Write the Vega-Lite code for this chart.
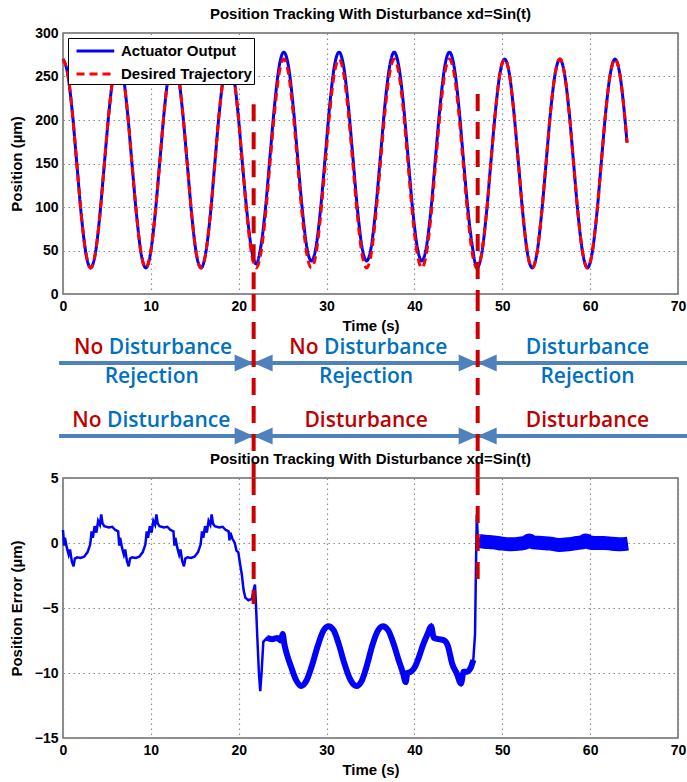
{
  "$schema": "https://vega.github.io/schema/vega-lite/v6.json",
  "padding": {"left": 8, "top": 6, "right": 0, "bottom": 0},
  "spacing": 0,
  "bounds": "flush",
  "resolve": {"scale": {"x": "independent", "y": "independent", "color": "independent"}},
  "config": {
    "view": {"stroke": "#6a6a6a", "strokeWidth": 1.5},
    "font": "Liberation Sans",
    "axis": {
      "labelFont": "Liberation Sans", "labelFontWeight": "bold", "labelFontSize": 14, "labelColor": "black",
      "titleFont": "Liberation Sans", "titleFontWeight": "bold", "titleFontSize": 15, "titleColor": "black",
      "domain": false, "ticks": false, "grid": true, "gridColor": "#8a8a8a", "gridDash": [1.5, 3.5], "gridWidth": 1.2, "gridOpacity": 1,
      "labelPadding": 5, "labelFlush": false, "labelOverlap": false
    },
    "axisY": {"titlePadding": 10},
    "axisX": {"titlePadding": 5},
    "title": {"font": "Liberation Sans", "fontSize": 15, "fontWeight": "bold", "color": "black", "anchor": "middle", "offset": 4}
  },
  "datasets": {
    "track": [
      {"t":0,"D":270,"A":270},{"t":0.52,"D":253.9,"A":253.9},{"t":1.05,"D":210,"A":210},{"t":1.57,"D":150,"A":150},{"t":2.09,"D":90,"A":90},{"t":2.62,"D":46.1,"A":46.1},
      {"t":3.14,"D":30,"A":30},{"t":3.67,"D":46.1,"A":46.1},{"t":4.19,"D":90,"A":90},{"t":4.71,"D":150,"A":150},{"t":5.24,"D":210,"A":210},{"t":5.76,"D":253.9,"A":253.9},
      {"t":6.28,"D":270,"A":270},{"t":6.81,"D":253.9,"A":253.9},{"t":7.33,"D":210,"A":210},{"t":7.85,"D":150,"A":150},{"t":8.38,"D":90,"A":90},{"t":8.9,"D":46.1,"A":46.1},
      {"t":9.42,"D":30,"A":30},{"t":9.95,"D":46.1,"A":46.1},{"t":10.47,"D":90,"A":90},{"t":11.0,"D":150,"A":150},{"t":11.52,"D":210,"A":210},{"t":12.04,"D":253.9,"A":253.9},
      {"t":12.57,"D":270,"A":270},{"t":13.09,"D":253.9,"A":253.9},{"t":13.61,"D":210,"A":210},{"t":14.14,"D":150,"A":150},{"t":14.66,"D":90,"A":90},{"t":15.18,"D":46.1,"A":46.1},
      {"t":15.71,"D":30,"A":30},{"t":16.23,"D":46.1,"A":46.1},{"t":16.76,"D":90,"A":90},{"t":17.28,"D":150,"A":150},{"t":17.8,"D":210,"A":210},{"t":18.33,"D":253.9,"A":253.9},
      {"t":18.85,"D":270,"A":270},{"t":19.37,"D":253.9,"A":253.9},{"t":19.9,"D":210,"A":210},{"t":20.42,"D":150,"A":150},{"t":20.94,"D":90,"A":94},{"t":21.47,"D":46.1,"A":50.4},
      {"t":21.99,"D":30,"A":34.5},{"t":22.51,"D":46.1,"A":54.1},{"t":23.04,"D":90,"A":98},{"t":23.56,"D":150,"A":158},{"t":24.09,"D":210,"A":218},{"t":24.61,"D":253.9,"A":261.9},
      {"t":25.13,"D":270,"A":278},{"t":25.66,"D":253.9,"A":261.9},{"t":26.18,"D":210,"A":218},{"t":26.7,"D":150,"A":158},{"t":27.23,"D":90,"A":98},{"t":27.75,"D":46.1,"A":54.1},
      {"t":28.27,"D":30,"A":38},{"t":28.8,"D":46.1,"A":54.1},{"t":29.32,"D":90,"A":98},{"t":29.85,"D":150,"A":158},{"t":30.37,"D":210,"A":218},{"t":30.89,"D":253.9,"A":261.9},
      {"t":31.42,"D":270,"A":278},{"t":31.94,"D":253.9,"A":261.9},{"t":32.46,"D":210,"A":218},{"t":32.99,"D":150,"A":158},{"t":33.51,"D":90,"A":98},{"t":34.03,"D":46.1,"A":54.1},
      {"t":34.56,"D":30,"A":38},{"t":35.08,"D":46.1,"A":54.1},{"t":35.6,"D":90,"A":98},{"t":36.13,"D":150,"A":158},{"t":36.65,"D":210,"A":218},{"t":37.18,"D":253.9,"A":261.9},
      {"t":37.7,"D":270,"A":278},{"t":38.22,"D":253.9,"A":261.9},{"t":38.75,"D":210,"A":218},{"t":39.27,"D":150,"A":158},{"t":39.79,"D":90,"A":98},{"t":40.32,"D":46.1,"A":54.1},
      {"t":40.84,"D":30,"A":38},{"t":41.36,"D":46.1,"A":54.1},{"t":41.89,"D":90,"A":98},{"t":42.41,"D":150,"A":158},{"t":42.94,"D":210,"A":218},{"t":43.46,"D":253.9,"A":261.9},
      {"t":43.98,"D":270,"A":278},{"t":44.51,"D":253.9,"A":261.9},{"t":45.03,"D":210,"A":218},{"t":45.55,"D":150,"A":158},{"t":46.08,"D":90,"A":98},{"t":46.6,"D":46.1,"A":54.1},
      {"t":47.12,"D":30,"A":30},{"t":47.65,"D":46.1,"A":46.1},{"t":48.17,"D":90,"A":90},{"t":48.69,"D":150,"A":150},{"t":49.22,"D":210,"A":210},{"t":49.74,"D":253.9,"A":253.9},
      {"t":50.27,"D":270,"A":270},{"t":50.79,"D":253.9,"A":253.9},{"t":51.31,"D":210,"A":210},{"t":51.84,"D":150,"A":150},{"t":52.36,"D":90,"A":90},{"t":52.88,"D":46.1,"A":46.1},
      {"t":53.41,"D":30,"A":30},{"t":53.93,"D":46.1,"A":46.1},{"t":54.45,"D":90,"A":90},{"t":54.98,"D":150,"A":150},{"t":55.5,"D":210,"A":210},{"t":56.03,"D":253.9,"A":253.9},
      {"t":56.55,"D":270,"A":270},{"t":57.07,"D":253.9,"A":253.9},{"t":57.6,"D":210,"A":210},{"t":58.12,"D":150,"A":150},{"t":58.64,"D":90,"A":90},{"t":59.17,"D":46.1,"A":46.1},
      {"t":59.69,"D":30,"A":30},{"t":60.21,"D":46.1,"A":46.1},{"t":60.74,"D":90,"A":90},{"t":61.26,"D":150,"A":150},{"t":61.78,"D":210,"A":210},{"t":62.31,"D":253.9,"A":253.9},
      {"t":62.83,"D":270,"A":270},{"t":63.36,"D":253.9,"A":253.9},{"t":63.88,"D":210,"A":210},{"t":64.2,"D":174,"A":174}
    ],
    "err": [
      {"t":0,"e":1.0},{"t":0.12,"e":-0.2},{"t":0.22,"e":0.4},{"t":0.45,"e":-0.4},{"t":0.65,"e":-0.9},{"t":0.8,"e":-0.5},{"t":1.0,"e":-1.4},{"t":1.2,"e":-1.8},{"t":1.35,"e":-1.2},{"t":1.6,"e":-1.1},{"t":2.0,"e":-1.15},{"t":2.4,"e":-1.05},{"t":2.8,"e":-0.7},{"t":3.1,"e":-0.1},{"t":3.25,"e":0.9},{"t":3.4,"e":0.4},{"t":3.6,"e":1.3},{"t":3.8,"e":0.8},{"t":4.0,"e":1.7},{"t":4.2,"e":1.4},{"t":4.35,"e":2.2},{"t":4.5,"e":1.5},{"t":4.7,"e":1.3},{"t":5.2,"e":1.2},{"t":5.6,"e":1.25},{"t":5.95,"e":1.0},
      {"t":6.28,"e":0.9},{"t":6.4,"e":-0.2},{"t":6.5,"e":0.4},{"t":6.73,"e":-0.4},{"t":6.93,"e":-0.9},{"t":7.08,"e":-0.5},{"t":7.28,"e":-1.4},{"t":7.48,"e":-1.8},{"t":7.63,"e":-1.2},{"t":7.88,"e":-1.1},{"t":8.28,"e":-1.15},{"t":8.68,"e":-1.05},{"t":9.08,"e":-0.7},{"t":9.38,"e":-0.1},{"t":9.53,"e":0.9},{"t":9.68,"e":0.4},{"t":9.88,"e":1.3},{"t":10.08,"e":0.8},{"t":10.28,"e":1.7},{"t":10.48,"e":1.4},{"t":10.63,"e":2.2},{"t":10.78,"e":1.5},{"t":10.98,"e":1.3},{"t":11.48,"e":1.2},{"t":11.88,"e":1.25},{"t":12.23,"e":1.0},
      {"t":12.57,"e":0.9},{"t":12.69,"e":-0.2},{"t":12.79,"e":0.4},{"t":13.02,"e":-0.4},{"t":13.22,"e":-0.9},{"t":13.37,"e":-0.5},{"t":13.57,"e":-1.4},{"t":13.77,"e":-1.8},{"t":13.92,"e":-1.2},{"t":14.17,"e":-1.1},{"t":14.57,"e":-1.15},{"t":14.97,"e":-1.05},{"t":15.37,"e":-0.7},{"t":15.67,"e":-0.1},{"t":15.82,"e":0.9},{"t":15.97,"e":0.4},{"t":16.17,"e":1.3},{"t":16.37,"e":0.8},{"t":16.57,"e":1.7},{"t":16.77,"e":1.4},{"t":16.92,"e":2.2},{"t":17.07,"e":1.5},{"t":17.27,"e":1.3},{"t":17.77,"e":1.2},{"t":18.17,"e":1.25},{"t":18.52,"e":1.0},
      {"t":18.85,"e":0.9},{"t":18.95,"e":0.2},{"t":19.05,"e":0.8},{"t":19.3,"e":0.3},{"t":19.55,"e":0.0},{"t":19.75,"e":-0.6},{"t":19.95,"e":-0.7},{"t":20.15,"e":-1.6},{"t":20.35,"e":-2.4},{"t":20.55,"e":-3.6},{"t":20.75,"e":-4.2},{"t":21.1,"e":-4.4},{"t":21.5,"e":-4.3},{"t":21.7,"e":-3.6},{"t":21.85,"e":-3.2},{"t":21.95,"e":-4.5},{"t":22.1,"e":-7.0},{"t":22.3,"e":-10.0},{"t":22.45,"e":-11.4},{"t":22.6,"e":-10.0},{"t":22.8,"e":-7.6},
      {"t":23.2,"e":-7.3},{"t":23.8,"e":-7.4},{"t":24.4,"e":-7.3},{"t":24.8,"e":-7.5},{"t":25.0,"e":-7.0},{"t":25.2,"e":-7.8},{"t":25.5,"e":-8.6},{"t":26.0,"e":-9.6},{"t":26.5,"e":-10.5},{"t":27.1,"e":-11.0},{"t":27.7,"e":-10.6},{"t":28.3,"e":-9.5},{"t":29.0,"e":-7.9},{"t":29.6,"e":-6.8},{"t":30.2,"e":-6.4},{"t":30.8,"e":-6.7},{"t":31.4,"e":-7.8},{"t":32.0,"e":-9.2},{"t":32.7,"e":-10.5},{"t":33.4,"e":-11.0},{"t":34.0,"e":-10.6},{"t":34.6,"e":-9.4},{"t":35.2,"e":-7.9},{"t":35.8,"e":-6.8},{"t":36.4,"e":-6.4},{"t":37.0,"e":-6.7},{"t":37.6,"e":-7.7},{"t":38.2,"e":-9.0},{"t":38.7,"e":-10.0},{"t":39.0,"e":-10.7},{"t":39.2,"e":-10.0},{"t":39.6,"e":-9.9},{"t":40.0,"e":-9.6},{"t":40.5,"e":-8.8},{"t":41.0,"e":-7.8},{"t":41.5,"e":-7.0},{"t":41.9,"e":-6.4},{"t":42.2,"e":-7.3},{"t":42.8,"e":-7.4},{"t":43.4,"e":-7.5},{"t":43.8,"e":-7.9},{"t":44.3,"e":-9.3},{"t":44.8,"e":-10.0},{"t":45.3,"e":-10.8},{"t":45.6,"e":-9.9},{"t":46.0,"e":-9.9},{"t":46.4,"e":-9.6},{"t":46.7,"e":-9.0},{"t":46.9,"e":-7.0},{"t":47.0,"e":-2.0},{"t":47.1,"e":2.2},{"t":47.2,"e":0.5},{"t":47.4,"e":0.15},
      {"t":48.0,"e":0.1},{"t":49.0,"e":0.05},{"t":50.0,"e":-0.05},{"t":51.0,"e":-0.1},{"t":52.0,"e":-0.05},{"t":52.7,"e":0.05},{"t":53.1,"e":0.2},{"t":53.5,"e":0.05},{"t":54.5,"e":0.0},{"t":55.5,"e":-0.05},{"t":56.5,"e":-0.15},{"t":57.5,"e":-0.1},{"t":58.5,"e":0.0},{"t":59.1,"e":0.05},{"t":59.5,"e":0.2},{"t":59.9,"e":0.05},{"t":60.5,"e":0.0},{"t":61.5,"e":0.0},{"t":62.5,"e":-0.05},{"t":63.5,"e":-0.1},{"t":64.3,"e":-0.05}
    ],
    "vmarks": [
      {"t": 21.7, "ty1": 218, "ty2": 0, "by1": 5, "by2": -4.7},
      {"t": 47.2, "ty1": 230, "ty2": 0, "by1": 5, "by2": -3.5}
    ],
    "arrowRows": [{"lv": 11.5}, {"lv": 4.2}],
    "heads": [
      {"t": 21.7, "lv": 11.5, "dir": "R"}, {"t": 21.7, "lv": 11.5, "dir": "L"},
      {"t": 47.2, "lv": 11.5, "dir": "R"}, {"t": 47.2, "lv": 11.5, "dir": "L"},
      {"t": 21.7, "lv": 4.2, "dir": "R"}, {"t": 21.7, "lv": 4.2, "dir": "L"},
      {"t": 47.2, "lv": 4.2, "dir": "R"}, {"t": 47.2, "lv": 4.2, "dir": "L"}
    ],
    "notes": [
      {"t": 4.9, "lv": 13.0, "txt": "No Disturbance", "kind": "split"},
      {"t": 10.1, "lv": 10.1, "txt": "Rejection", "kind": "ctl"},
      {"t": 29.4, "lv": 13.0, "txt": "No Disturbance", "kind": "split"},
      {"t": 34.5, "lv": 10.1, "txt": "Rejection", "kind": "ctl"},
      {"t": 59.7, "lv": 13.0, "txt": "Disturbance", "kind": "ctl"},
      {"t": 59.7, "lv": 10.1, "txt": "Rejection", "kind": "ctl"},
      {"t": 4.7, "lv": 5.7, "txt": "No Disturbance", "kind": "split"},
      {"t": 34.5, "lv": 5.7, "txt": "Disturbance", "kind": "dist"},
      {"t": 59.7, "lv": 5.7, "txt": "Disturbance", "kind": "dist"}
    ]
  },
  "vconcat": [
    {
      "width": 615, "height": 261,
      "title": "Position Tracking With Disturbance xd=Sin(t)",
      "layer": [
        {
          "data": {"name": "track"},
          "transform": [{"fold": ["A", "D"], "as": ["series", "pos"]}],
          "mark": {"type": "line", "interpolate": "monotone", "strokeWidth": 3},
          "encoding": {
            "x": {"field": "t", "type": "quantitative", "scale": {"domain": [0, 70], "nice": false, "zero": false},
                  "axis": {"values": [0, 10, 20, 30, 40, 50, 60, 70], "title": "Time (s)"}},
            "y": {"field": "pos", "type": "quantitative", "scale": {"domain": [0, 300], "nice": false},
                  "axis": {"values": [0, 50, 100, 150, 200, 250, 300], "title": "Position (µm)"}},
            "color": {"field": "series", "type": "nominal",
                      "scale": {"domain": ["A", "D"], "range": ["#0000ff", "#ff0000"]},
                      "legend": {"title": null, "orient": "top-left", "offset": 5,
                                 "labelExpr": "datum.label == 'A' ? 'Actuator Output' : 'Desired Trajectory'",
                                 "labelFont": "Liberation Sans", "labelFontWeight": "bold", "labelFontSize": 15, "labelColor": "black",
                                 "symbolType": "M-0.47,0L3.5,0", "symbolSize": 361, "symbolStrokeWidth": 3, "symbolFillColor": "transparent",
                                 "strokeColor": "black", "fillColor": "white", "padding": 2, "rowPadding": 4, "labelOffset": 29,
                                 "encode": {"symbols": {"update": {"strokeDash": {"signal": "datum.value == 'D' ? [8, 5] : [1, 0]"}}}}}},
            "strokeDash": {"field": "series", "type": "nominal", "legend": null,
                           "scale": {"domain": ["A", "D"], "range": [[1, 0], [8, 5]]}}
          }
        },
        {
          "data": {"name": "vmarks"},
          "mark": {"type": "rule", "color": "#cc0000", "strokeWidth": 4, "strokeDash": [17, 11]},
          "encoding": {
            "x": {"field": "t", "type": "quantitative"},
            "y": {"field": "ty1", "type": "quantitative"},
            "y2": {"field": "ty2"}
          }
        }
      ]
    },
    {
      "width": 615, "height": 184,
      "view": {"stroke": null},
      "layer": [
        {
          "data": {"name": "arrowRows"},
          "mark": {"type": "rule", "color": "#4F81BD", "strokeWidth": 4},
          "encoding": {
            "x": {"datum": -0.45, "type": "quantitative", "scale": {"domain": [0, 70], "nice": false, "zero": false}, "axis": null},
            "x2": {"datum": 71.1},
            "y": {"field": "lv", "type": "quantitative", "scale": {"domain": [0, 18.4], "nice": false}, "axis": null}
          }
        },
        {
          "data": {"name": "heads"},
          "mark": {"type": "point", "filled": true, "opacity": 1, "size": 1444, "color": "#4F81BD", "strokeWidth": 0},
          "encoding": {
            "x": {"field": "t", "type": "quantitative"},
            "y": {"field": "lv", "type": "quantitative"},
            "shape": {"field": "dir", "type": "nominal", "legend": null,
                      "scale": {"domain": ["R", "L"], "range": ["M0,0L-1,-0.45L-1,0.45Z", "M0,0L1,-0.45L1,0.45Z"]}}
          }
        },
        {
          "data": {"name": "notes"},
          "transform": [{"filter": "datum.kind == 'split'"}],
          "mark": {"type": "text", "font": "Open Sans", "fontWeight": 600, "fontSize": 21, "align": "right", "baseline": "middle", "dx": -2.7, "color": "#C00000"},
          "encoding": {
            "x": {"field": "t", "type": "quantitative"},
            "y": {"field": "lv", "type": "quantitative"},
            "text": {"value": "No"}
          }
        },
        {
          "data": {"name": "notes"},
          "transform": [{"filter": "datum.kind == 'split'"}],
          "mark": {"type": "text", "font": "Open Sans", "fontWeight": 600, "fontSize": 21, "align": "left", "baseline": "middle", "dx": 2.7, "color": "#0070C0"},
          "encoding": {
            "x": {"field": "t", "type": "quantitative"},
            "y": {"field": "lv", "type": "quantitative"},
            "text": {"value": "Disturbance"}
          }
        },
        {
          "data": {"name": "notes"},
          "transform": [{"filter": "datum.kind != 'split'"}],
          "mark": {"type": "text", "font": "Open Sans", "fontWeight": 600, "fontSize": 21, "align": "center", "baseline": "middle"},
          "encoding": {
            "x": {"field": "t", "type": "quantitative"},
            "y": {"field": "lv", "type": "quantitative"},
            "text": {"field": "txt"},
            "color": {"field": "kind", "type": "nominal", "legend": null,
                      "scale": {"domain": ["ctl", "dist"], "range": ["#0070C0", "#C00000"]}}
          }
        },
        {
          "data": {"name": "vmarks"},
          "mark": {"type": "rule", "color": "#cc0000", "strokeWidth": 4, "strokeDash": [17, 11]},
          "encoding": {
            "x": {"field": "t", "type": "quantitative"},
            "y": {"datum": 18.4, "type": "quantitative"},
            "y2": {"datum": 0}
          }
        }
      ]
    },
    {
      "width": 615, "height": 260,
      "title": "Position Tracking With Disturbance xd=Sin(t)",
      "layer": [
        {
          "data": {"name": "err"},
          "mark": {"type": "line", "color": "#0000ff", "strokeWidth": 2.5},
          "encoding": {
            "x": {"field": "t", "type": "quantitative", "scale": {"domain": [0, 70], "nice": false, "zero": false},
                  "axis": {"values": [0, 10, 20, 30, 40, 50, 60, 70], "title": "Time (s)"}},
            "y": {"field": "e", "type": "quantitative", "scale": {"domain": [-15, 5], "nice": false},
                  "axis": {"values": [-15, -10, -5, 0, 5], "title": "Position Error (µm)"}}
          }
        },
        {
          "data": {"name": "err"},
          "transform": [{"filter": "datum.t >= 23 && datum.t <= 46.7"}],
          "mark": {"type": "line", "color": "#0000ff", "strokeWidth": 6, "interpolate": "monotone"},
          "encoding": {
            "x": {"field": "t", "type": "quantitative"},
            "y": {"field": "e", "type": "quantitative"}
          }
        },
        {
          "data": {"name": "err"},
          "transform": [{"filter": "datum.t >= 47.4"}],
          "mark": {"type": "line", "color": "#0000ff", "strokeWidth": 14, "strokeCap": "butt", "interpolate": "monotone"},
          "encoding": {
            "x": {"field": "t", "type": "quantitative"},
            "y": {"field": "e", "type": "quantitative"}
          }
        },
        {
          "data": {"name": "vmarks"},
          "mark": {"type": "rule", "color": "#cc0000", "strokeWidth": 4, "strokeDash": [17, 11]},
          "encoding": {
            "x": {"field": "t", "type": "quantitative"},
            "y": {"field": "by1", "type": "quantitative"},
            "y2": {"field": "by2"}
          }
        }
      ]
    }
  ]
}
